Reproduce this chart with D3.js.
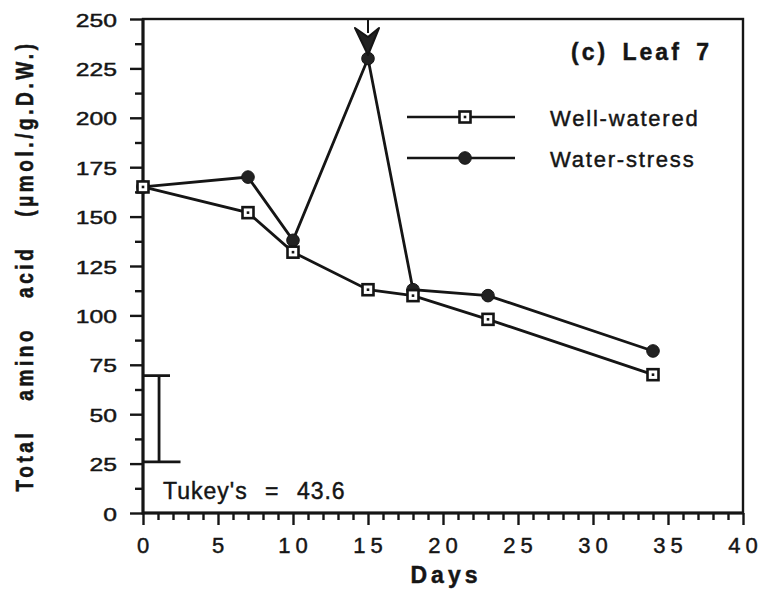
<!DOCTYPE html>
<html>
<head>
<meta charset="utf-8">
<script src="https://cdn.jsdelivr.net/npm/d3@7"></script>
<style>
  body { margin: 0; background: #fff; }
  text { font-family: "Liberation Sans", Arial, Helvetica, sans-serif; fill: #151515; stroke: #151515; stroke-width: 0.45px; }
</style>
</head>
<body>
<div id="chart"></div>
<script>
(() => {

    // data
    var days = [0, 7, 10, 15, 18, 23, 34];
    var wellWatered = [165, 152, 132, 113, 110, 98, 70];
    var waterStress = [165, 170, 138, 230, 113, 110, 82];
    var yTicks = [0, 25, 50, 75, 100, 125, 150, 175, 200, 225, 250];
    var xTicks = [0, 5, 10, 15, 20, 25, 30, 35, 40];
    var seriesNames = ["Well-watered", "Water-stress"];
    var tukeyTop = 69.5, tukeyBottom = 25.9;   // Tukey's = 43.6
    var arrowDay = 15;

    var width = 765, height = 589;
    var margin = { top: 19, right: 22, bottom: 76, left: 143 };
    var ink = "#151515";

    var svg = d3.select("#chart")
        .append("svg")
        .attr("width", width)
        .attr("height", height);

    var x = d3.scaleLinear()
        .domain([0, 40])
        .range([margin.left, width - margin.right]);

    var y = d3.scaleLinear()
        .domain([0, 250])
        .range([height - margin.bottom, margin.top]);

    // minor + major ticks (labels drawn separately)
    var tickStyle = function (g) {
        g.select(".domain").remove();
        g.selectAll("line").attr("stroke", ink).attr("stroke-width", 2.4);
    };

    svg.append("g")
        .attr("transform", "translate(" + margin.left + ",0)")
        .call(d3.axisLeft(y).tickValues(d3.range(12.5, 250, 25)).tickSize(8).tickFormat(""))
        .call(tickStyle);
    svg.append("g")
        .attr("transform", "translate(" + margin.left + ",0)")
        .call(d3.axisLeft(y).tickValues(yTicks).tickSize(13).tickFormat(""))
        .call(tickStyle);

    svg.append("g")
        .attr("transform", "translate(0," + y(0) + ")")
        .call(d3.axisBottom(x).tickValues(d3.range(0, 41, 1).filter(d => d % 5)).tickSize(7).tickFormat(""))
        .call(tickStyle);
    svg.append("g")
        .attr("transform", "translate(0," + y(0) + ")")
        .call(d3.axisBottom(x).tickValues(xTicks).tickSize(12).tickFormat(""))
        .call(tickStyle);

    // frame
    svg.append("rect")
        .attr("x", x(0))
        .attr("y", y(250))
        .attr("width", x(40) - x(0))
        .attr("height", y(0) - y(250))
        .attr("fill", "none")
        .attr("stroke", ink)
        .attr("stroke-width", 2.4);
    svg.append("path")
        .attr("d", "M" + x(0) + "," + y(250) + "V" + y(0) + "H" + x(40))
        .attr("fill", "none")
        .attr("stroke", ink)
        .attr("stroke-width", 3);

    // tick labels
    svg.selectAll(".ylab")
        .data(yTicks)
        .enter()
        .append("text")
        .attr("transform", d => "translate(117," + (y(d) + 7.5) + ") scale(1.3,1)")
        .attr("text-anchor", "end")
        .style("font-size", "19px")
        .text(d => d);

    svg.selectAll(".xlab")
        .data(xTicks)
        .enter()
        .append("text")
        .attr("x", d => x(d) + 2.5)
        .attr("y", 553)
        .attr("text-anchor", "middle")
        .style("font-size", "22px")
        .style("letter-spacing", "5px")
        .text(d => d);

    // axis titles
    svg.append("text")
        .attr("x", 446)
        .attr("y", 583)
        .attr("text-anchor", "middle")
        .style("font-size", "23px")
        .style("font-weight", "bold")
        .style("letter-spacing", "4px")
        .text("Days");

    svg.append("text")
        .attr("transform", "translate(33,266) rotate(-90) scale(1,1.3)")
        .attr("text-anchor", "middle")
        .style("font-size", "19px")
        .style("font-weight", "bold")
        .style("letter-spacing", "3.6px")
        .style("word-spacing", "20px")
        .text("Total amino acid (\u00b5mol./g.D.W.)");

    // lines
    var line = d3.line()
        .x(d => x(d[0]))
        .y(d => y(d[1]));

    var ww = days.map((d, i) => [d, wellWatered[i]]);
    var ws = days.map((d, i) => [d, waterStress[i]]);

    [ws, ww].forEach(function (s) {
        svg.append("path")
            .datum(s)
            .attr("d", line)
            .attr("fill", "none")
            .attr("stroke", ink)
            .attr("stroke-width", 2.8);
    });

    var drawSquare = function (g, cx, cy) {
        g.append("rect")
            .attr("x", cx - 5.5).attr("y", cy - 5.5)
            .attr("width", 11).attr("height", 11)
            .attr("fill", "#fff")
            .attr("stroke", ink)
            .attr("stroke-width", 2.6);
        g.append("rect")
            .attr("x", cx - 1.3).attr("y", cy - 1.3)
            .attr("width", 2.6).attr("height", 2.6)
            .attr("fill", ink);
    };
    var drawDot = function (g, cx, cy) {
        g.append("circle")
            .attr("cx", cx).attr("cy", cy)
            .attr("r", 6.3)
            .attr("fill", "#222")
            .attr("stroke", ink)
            .attr("stroke-width", 1);
    };

    var marks = svg.append("g");
    ws.forEach(d => drawDot(marks, x(d[0]), y(d[1])));
    ww.forEach(d => drawSquare(marks, x(d[0]), y(d[1])));

    // arrow at top
    var ax = x(arrowDay), at = y(250);
    svg.append("line")
        .attr("x1", ax).attr("x2", ax)
        .attr("y1", at).attr("y2", at + 14)
        .attr("stroke", ink)
        .attr("stroke-width", 2);
    svg.append("path")
        .attr("d", "M" + (ax - 13) + "," + (at + 9) +
            "L" + ax + "," + (at + 18) +
            "L" + (ax + 11) + "," + (at + 9) +
            "L" + ax + "," + (at + 36) + "Z")
        .attr("fill", "#222")
        .attr("stroke", ink)
        .attr("stroke-width", 2)
        .attr("stroke-linejoin", "round");

    // panel label
    svg.append("text")
        .attr("x", 571)
        .attr("y", 60)
        .style("font-size", "23px")
        .style("font-weight", "bold")
        .style("letter-spacing", "3px")
        .style("word-spacing", "5px")
        .text("(c) Leaf 7");

    // legend
    var legY = [117, 158];
    seriesNames.forEach(function (name, i) {
        svg.append("line")
            .attr("x1", 407).attr("x2", 515)
            .attr("y1", legY[i]).attr("y2", legY[i])
            .attr("stroke", ink)
            .attr("stroke-width", 2.6);
        if (i === 0) drawSquare(svg, 465, legY[i]);
        else drawDot(svg, 465, legY[i]);
        svg.append("text")
            .attr("x", 550)
            .attr("y", legY[i] + 9)
            .style("font-size", "22px")
            .style("letter-spacing", "1.8px")
            .text(name);
    });

    // Tukey's bar
    var tx = x(1.07);
    svg.append("path")
        .attr("d", "M" + x(0) + "," + y(tukeyTop) + "H" + x(1.8) +
            "M" + tx + "," + y(tukeyTop) + "V" + y(tukeyBottom) +
            "M" + x(0) + "," + y(tukeyBottom) + "H" + x(2.5))
        .attr("fill", "none")
        .attr("stroke", ink)
        .attr("stroke-width", 2.8);

    svg.append("text")
        .attr("x", 163)
        .attr("y", 499)
        .style("font-size", "23px")
        .style("letter-spacing", "1px")
        .style("word-spacing", "10px")
        .text("Tukey's = 43.6");

})();
</script>
</body>
</html>
